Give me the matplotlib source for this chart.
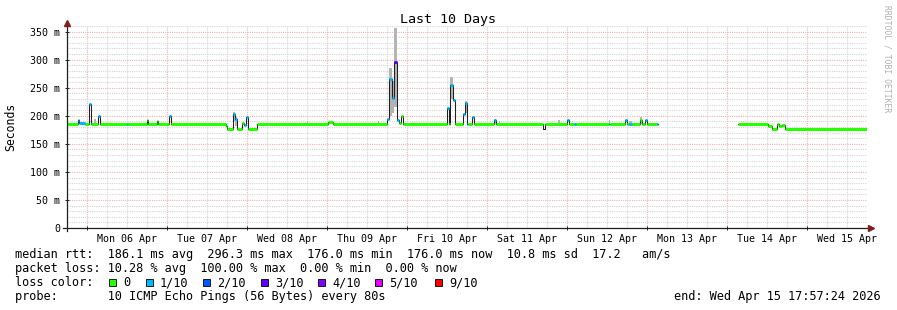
import numpy as np
import pandas as pd
import matplotlib
matplotlib.use('Agg')
import matplotlib.pyplot as plt
import matplotlib.dates as mdates
from matplotlib.ticker import MultipleLocator, FuncFormatter, NullFormatter
from matplotlib.collections import LineCollection
from matplotlib.lines import Line2D
from matplotlib.patches import Rectangle

W, H = 897, 310
MONO = 'DejaVu Sans Mono'

start = pd.Timestamp('2026-04-05 17:57:24')
end = pd.Timestamp('2026-04-15 17:57:24')

# median rtt breakpoints: hours since start, value in ms, loss level (-1 = no colour)
hours = [0.0, 3.3, 3.6, 5.4, 6.6, 7.2, 9.3, 9.9, 18.0, 18.3,
         24.0, 24.3, 27.0, 27.3, 30.6, 31.2, 47.7, 48.0, 49.8, 50.4,
         51.0, 52.5, 53.1, 53.7, 54.3, 57.0, 78.3, 79.8, 96.0, 96.6,
         97.5, 98.1, 99.0, 99.6, 100.2, 100.8, 114.0, 114.6, 114.9, 115.8,
         116.4, 118.8, 119.4, 120.0, 120.3, 121.5, 122.1, 128.1, 128.7, 142.8,
         143.4, 150.0, 150.6, 152.1, 152.7, 162.6, 162.9, 167.4, 168.0, 168.6,
         169.5, 171.9, 172.5, 173.4, 174.0, 177.0, 177.3, 201.3, 210.3, 211.5,
         213.0, 213.6, 214.5, 215.4, 240.0]
median = [186, 192, 188, 186, 221, 186, 199, 186, 186, 186,
          192, 186, 190, 186, 200, 186, 182, 176, 203, 195,
          176, 188, 183, 197, 176, 186, 189, 186, 195, 265,
          232, 296, 193, 188, 199, 186, 214, 186, 254, 228,
          186, 204, 222, 186, 186, 197, 186, 193, 186, 176,
          186, 192, 186, 186, 186, 186, 186, 192, 186, 185,
          186, 192, 186, 192, 186, 186, np.nan, 186, 182, 176,
          185, 181, 183, 177, 177]
loss = [0, 1, 1, 0, 1, 0, 1, 0, 1, 0,
        0, 0, 0, 0, 1, 0, 0, 0, 1, 1,
        0, 0, 1, 1, 0, 0, 0, 0, 1, 1,
        1, 3, 1, 0, 0, 0, 1, 0, 1, 1,
        0, 1, 1, 1, 0, 1, 0, 1, 0, -1,
        0, 1, 0, 1, 0, 1, 0, 1, 0, 1,
        0, 0, 0, 1, 0, 1, -1, 0, 0, 0,
        0, 0, 0, 0, 0]

# smoke (spread of the pings) where it shows above the median line
smoke_start = [8.1, 49.8, 50.4, 72.0, 93.3, 96.6, 97.5, 98.1, 114.9, 119.4, 128.1, 129.6, 147.3, 162.6, 168.6, 171.9]
smoke_end = [8.7, 50.4, 51.0, 72.3, 93.6, 97.5, 98.1, 99.0, 115.8, 120.0, 128.7, 129.9, 147.9, 162.9, 169.5, 172.5]
smoke_lo = [186, 190, 182, 186, 186, 200, 205, 215, 230, 205, 186, 186, 186, 186, 185, 186]
smoke_hi = [195, 206, 198, 191, 190, 285, 262, 356, 270, 226, 194, 191, 192, 193, 190, 197]

loss_labels = ['0', '1/10', '2/10', '3/10', '4/10', '5/10', '9/10']
loss_colors = ['#26ff00', '#00b8ff', '#0059ff', '#5e00ff', '#7e00ff', '#dd00ff', '#ff0000']

legend_rows = [
    'median rtt:  186.1 ms avg  296.3 ms max  176.0 ms min  176.0 ms now  10.8 ms sd  17.2   am/s',
    'packet loss: 10.28 % avg  100.00 % max  0.00 % min  0.00 % now',
    'loss color:',
    'probe:       10 ICMP Echo Pings (56 Bytes) every 80s',
]
end_text = 'end: Wed Apr 15 17:57:24 2026'


def to_num(h):
    return mdates.date2num((start + pd.to_timedelta(h, unit='h')).to_numpy())


fig = plt.figure(figsize=(W / 100, H / 100), dpi=100)
fig.patch.set_facecolor('white')
ax = fig.add_axes([67 / W, (H - 228) / H, 800 / W, 202 / H])
ax.set_facecolor('white')

t = to_num(hours)
med = np.array(median, dtype=float)

# smoke
ts = to_num(smoke_start)
te = to_num(smoke_end)
ax.bar(ts, np.array(smoke_hi) - np.array(smoke_lo), width=te - ts, bottom=smoke_lo,
       align='edge', color='#b4b4b4', linewidth=0, zorder=2)

# thin dark median line
ax.step(t, med, where='post', color='#202020', lw=0.75, zorder=3)

# loss coloured median
segs, cols = [], []
for i in range(len(t) - 1):
    if loss[i] >= 0 and not np.isnan(med[i]):
        segs.append([(t[i], med[i]), (t[i + 1], med[i])])
        cols.append(loss_colors[loss[i]])
ax.add_collection(LineCollection(segs, colors=cols, linewidths=2.2, capstyle='butt', zorder=4))

ax.set_xlim(to_num([0.0])[0], mdates.date2num(end.to_numpy()))
ax.set_ylim(0, 360)

for s in ax.spines.values():
    s.set_visible(False)

ax.xaxis.set_major_locator(mdates.DayLocator())
ax.xaxis.set_major_formatter(NullFormatter())
ax.xaxis.set_minor_locator(mdates.HourLocator(byhour=[0, 6, 12, 18]))
ax.xaxis.set_minor_formatter(FuncFormatter(
    lambda x, p: mdates.num2date(x).strftime('%a %d %b') if mdates.num2date(x).hour == 12 else ''))
ax.yaxis.set_major_locator(MultipleLocator(50))
ax.yaxis.set_minor_locator(MultipleLocator(10))
ax.yaxis.set_major_formatter(FuncFormatter(lambda v, p: '0' if v == 0 else f'{v:.0f} m'))

ax.set_axisbelow(True)
ax.grid(which='minor', color='#d6d6d6', ls=(0, (1, 1)), lw=0.8)
ax.grid(which='major', color='#f5b0b0', ls=(0, (1, 1)), lw=0.8)

ax.tick_params(which='both', direction='inout', color='#1f1f1f', width=0.7)
ax.tick_params(which='major', length=3)
ax.tick_params(which='minor', length=0)
ax.tick_params(axis='y', which='major', pad=3.5, labelsize=7.2)
ax.tick_params(axis='x', which='minor', pad=4.0, labelsize=7.2)
for lab in ax.get_xticklabels(minor=True) + ax.get_yticklabels():
    lab.set_fontfamily(MONO)

# axis lines with arrows
fig.add_artist(Line2D([63 / W, 870 / W], [1 - 228 / H] * 2, color='#1f1f1f', lw=0.9))
fig.add_artist(Line2D([67 / W] * 2, [1 - 231 / H, 1 - 24 / H], color='#1f1f1f', lw=0.9))
fig.add_artist(Line2D([871 / W], [1 - 228 / H], marker='>', ms=4, color='#7f1f1f', lw=0))
fig.add_artist(Line2D([67 / W], [1 - 23 / H], marker='^', ms=4, color='#7f1f1f', lw=0))


def ftext(x, y, s, **kw):
    kw.setdefault('family', MONO)
    fig.text(x / W, 1 - y / H, s, **kw)


ftext(448, 19, 'Last 10 Days', ha='center', va='center', fontsize=9.6)
ftext(11, 127, 'Seconds', ha='center', va='center', rotation=90, fontsize=8.3)
ftext(887, 5, 'RRDTOOL / TOBI OETIKER', ha='center', va='top', rotation=-90,
      fontsize=5.8, color='#b0b0b0')

row_y = [254.5, 268.5, 282.5, 296.5]
for s, y in zip(legend_rows, row_y):
    ftext(15, y, s, ha='left', va='center', fontsize=8.55)
ftext(881, row_y[3], end_text, ha='right', va='center', fontsize=8.55)

box_x = [109, 146, 203, 261, 318, 375, 435]
for bx, lab, c in zip(box_x, loss_labels, loss_colors):
    fig.add_artist(Rectangle((bx / W, 1 - (row_y[2] + 3.5) / H), 7 / W, 7 / H,
                             facecolor=c, edgecolor='black', lw=0.6))
    ftext(bx + 14, row_y[2], lab, ha='left', va='center', fontsize=8.55)

fig.savefig('out.png', dpi=100)
